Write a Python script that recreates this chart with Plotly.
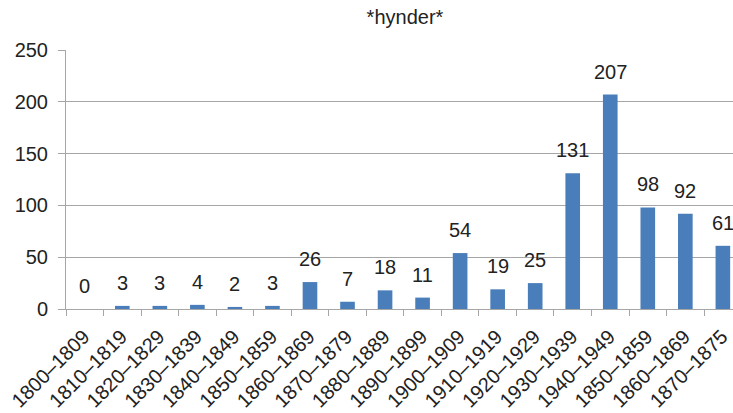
import plotly.graph_objects as go

categories = ["1800–1809", "1810–1819", "1820–1829", "1830–1839", "1840–1849",
              "1850–1859", "1860–1869", "1870–1879", "1880–1889", "1890–1899",
              "1900–1909", "1910–1919", "1920–1929", "1930–1939", "1940–1949",
              "1850–1859", "1860–1869", "1870–1875"]
values = [0, 3, 3, 4, 2, 3, 26, 7, 18, 11, 54, 19, 25, 131, 207, 98, 92, 61]
title_text = "*hynder*"
y_ticks = [0, 50, 100, 150, 200, 250]

# unique category keys (some labels repeat), shown with the original labels
keys = [f"{c} #{i}" for i, c in enumerate(categories)]

FONT = "Liberation Sans, Arial, sans-serif"
fig = go.Figure(go.Bar(
    x=keys, y=values, width=0.39,
    marker=dict(color="#4A7EBB", line=dict(width=0)),
    hoverinfo="skip",
))
for k, v in zip(keys, values):
    fig.add_annotation(x=k, y=v, text=str(v), showarrow=False,
                       xanchor="center", yanchor="bottom", yshift=10,
                       font=dict(family=FONT, size=20, color="#222222"))
fig.update_layout(
    width=733, height=413,
    margin=dict(l=66, r=0, t=50, b=104),
    paper_bgcolor="white", plot_bgcolor="white",
    showlegend=False, bargap=0.6,
    font=dict(family=FONT, color="#222222"),
    title=dict(text=title_text, x=0.5525, xanchor="center", y=0.959, yanchor="middle",
               font=dict(family=FONT, size=20, color="#222222")),
)
fig.update_xaxes(
    type="category", categoryorder="array", categoryarray=keys,
    tickmode="array", tickvals=keys, ticktext=categories,
    range=[-0.5, 17.27], automargin=False,
    showline=True, linecolor="#A6A6A6", linewidth=1,
    ticks="outside", tickson="boundaries", ticklen=6, tickcolor="#A6A6A6",
    tickangle=-45, tickfont=dict(family=FONT, size=20, color="#222222"),
    ticklabelstandoff=7, ticklabelshift=-1, showgrid=False,
)
fig.update_yaxes(
    range=[0, 250], tickvals=y_ticks, automargin=False,
    showline=True, linecolor="#A6A6A6", linewidth=1,
    ticks="outside", ticklen=7, tickcolor="#A6A6A6",
    gridcolor="#A6A6A6", gridwidth=1, zeroline=False,
    tickfont=dict(family=FONT, size=20, color="#222222"),
    ticklabelstandoff=6,
)
fig.write_html("out.html", config={"displayModeBar": False},
               post_script="document.body.style.margin='0';document.body.style.overflow='hidden';")
